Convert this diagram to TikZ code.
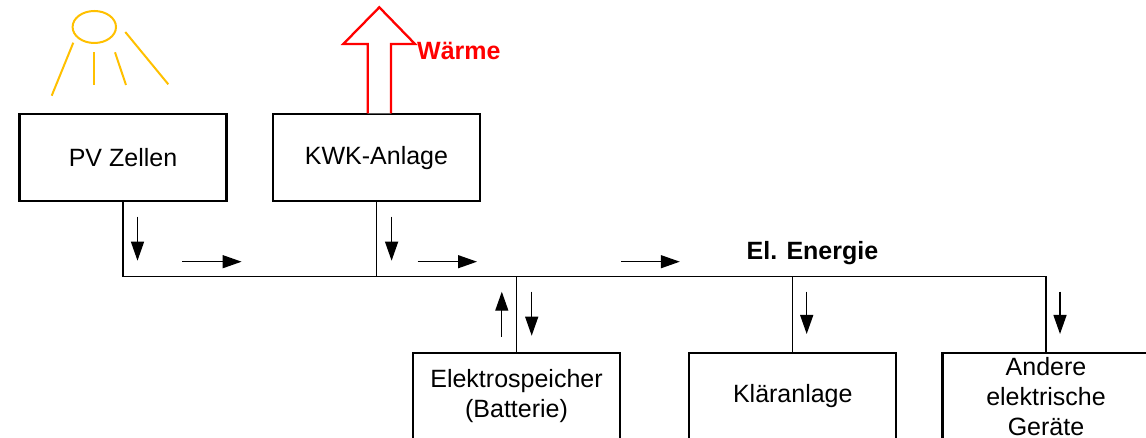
\documentclass[tikz,border=0pt]{standalone}
\usepackage{fontspec}
\setmainfont{Liberation Sans}
\usetikzlibrary{arrows.meta}
\definecolor{sunc}{RGB}{255,192,0}
\definecolor{heat}{RGB}{255,0,0}
\begin{document}
\begin{tikzpicture}[x=1pt,y=-1pt,
  box/.style={draw,line width=2.2pt,minimum width=207pt,minimum height=87pt,inner sep=0pt,align=center,font=\fontsize{25}{30}\selectfont},
  wire/.style={line width=1.3pt},
  flow/.style={line width=1.3pt,-{Triangle[length=19pt,width=13pt]}},
  sunline/.style={draw=sunc,line width=2pt},
  lbl/.style={font=\fontsize{25}{30}\selectfont\bfseries,inner sep=0pt}]
\useasboundingbox (0,0) rectangle (1146,438);
\begin{scope}
\clip (0,0) rectangle (1146,438);
% sun
\draw[sunline] (94.3,27) ellipse [x radius=21.7pt, y radius=16pt];
\draw[sunline] (73.3,42.7) -- (51.7,95.7);
\draw[sunline] (94.3,52.3) -- (94.3,85);
\draw[sunline] (115,52.3) -- (126,85);
\draw[sunline] (125.3,32) -- (168.3,84.3);
% boxes
\node[box] (pv)  at (123,157.6) {PV Zellen};
\node[box] (kwk) at (376.5,157.6) {KWK-Anlage};
\node[box] (bat) at (516.5,396.3) {Elektrospeicher\\(Batterie)};
\node[box] (kla) at (792.8,396.3) {Kläranlage};
\node[box] (oth) at (1046,396.3) {Andere\\elektrische\\Geräte};
% heat arrow
\draw[draw=heat,line width=2.3pt,fill=white,line join=miter]
  (367.7,113.5) -- (367.7,44) -- (343.3,44) -- (379.3,7.3) -- (415,44) -- (391,44) -- (391,113.5);
\node[lbl,text=heat,anchor=base west] (waerme) at (417,60) {Wärme};
% bus
\coordinate (busR) at (1046,276.7);
\draw[wire] (pv.south) |- (busR) -- (oth.north);
\draw[wire] (kwk.south) -- (kwk.south |- busR);
\draw[wire] (bat.north) -- (bat.north |- busR);
\draw[wire] (kla.north) -- (kla.north |- busR);
\node[lbl,anchor=base west] (energie) at (746.5,260) {El. Energie};
% flow arrows
\draw[flow] (137.5,216.7) -- (137.5,260.7);
\draw[flow] (391.6,216.7) -- (391.6,260.7);
\draw[flow] (182.3,261.7) -- (241.6,261.7);
\draw[flow] (417.6,261.7) -- (477,261.7);
\draw[flow] (621,261.7) -- (679.8,261.7);
\draw[flow] (501.8,336.7) -- (501.8,291.7);
\draw[flow] (531.7,291.7) -- (531.7,335.7);
\draw[flow] (806.7,291.7) -- (806.7,334);
\draw[flow] (1060,291.7) -- (1060,334);
\end{scope}
\end{tikzpicture}
\end{document}
